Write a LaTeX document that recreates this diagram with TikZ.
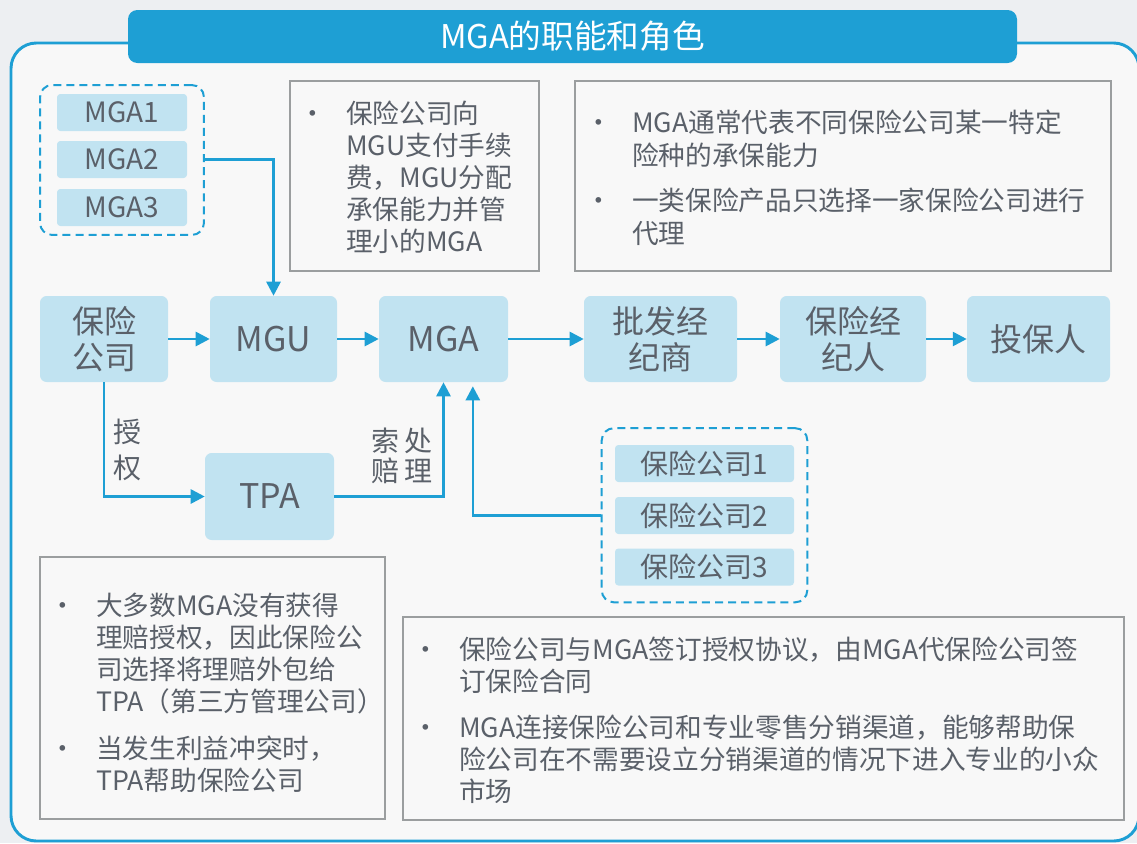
\documentclass[tikz,border=0pt]{standalone}
\usepackage{fontspec}
\setmainfont{Noto Sans CJK SC}
\usepackage{xcolor}
\usetikzlibrary{arrows.meta}
\usetikzlibrary{fit}

\definecolor{lineblue}{RGB}{30,159,212}
\definecolor{boxblue}{RGB}{193,227,241}
\definecolor{txtgray}{RGB}{90,96,105}
\definecolor{framegray}{RGB}{155,158,159}
\definecolor{innerbg}{RGB}{248,248,248}
\definecolor{pagebg}{RGB}{237,239,242}

\tikzset{
  titlebar/.style={rectangle,rounded corners=7pt,fill=lineblue,text=white,inner sep=0pt,minimum width=666.75pt,minimum height=39.75pt,font=\fontsize{24.5}{28}\selectfont},
  flowbox/.style={rectangle,rounded corners=5pt,fill=boxblue,text=txtgray,inner sep=0pt,minimum height=64.5pt,align=center,font=\fontsize{24}{27}\selectfont},
  itembox/.style={rectangle,rounded corners=2.5pt,fill=boxblue,text=txtgray,inner sep=0pt,minimum height=27.75pt,font=\fontsize{21}{24}\selectfont},
  groupbox/.style={draw=lineblue,line width=1.5pt,dash pattern=on 6pt off 3.8pt,rounded corners=9pt,inner sep=0pt},
  notebox/.style={draw=framegray,line width=1.5pt},
  notetext/.style={anchor=north west,inner sep=0pt,text=txtgray,font=\fontsize{20}{24}\selectfont},
  link/.style={draw=lineblue,line width=2pt,-{Triangle[length=10.5pt,width=10.5pt]}},
  lbl/.style={inner sep=0pt,text=txtgray,align=center,font=\fontsize{21}{27}\selectfont}
}
\newcommand{\bul}{\makebox[49.5pt][c]{\textbullet}}

\begin{document}
\begin{tikzpicture}[x=0.75pt,y=0.75pt,yscale=-1,xscale=1]
	\useasboundingbox (0,0) rectangle (1137,843);
	\fill[pagebg] (0,0) rectangle (1137,843);

	%Shape: Frame
	\draw[lineblue,line width=2.2pt,fill=innerbg,rounded corners=19pt] (11,43) rectangle (1139,841);
	% Title
	\node[titlebar] (title) at (572.5,36.5) {MGA的职能和角色};

	% Flow boxes
	\node[flowbox,minimum width=96pt] (ins) at (104,339) {保险\\公司};
	\node[flowbox,minimum width=95.25pt,font=\fontsize{25.5}{27}\selectfont] (mgu) at (273.5,339) {MGU};
	\node[flowbox,minimum width=96.75pt,font=\fontsize{25.5}{27}\selectfont] (mga) at (443.5,339) {MGA};
	\node[flowbox,minimum width=114.75pt] (whsl) at (660.5,339) {批发经\\纪商};
	\node[flowbox,minimum width=109.5pt] (brkr) at (853,339) {保险经\\纪人};
	\node[flowbox,minimum width=107.25pt] (holder) at (1038.5,339) {投保人};
	\node[flowbox,minimum width=96.75pt,minimum height=65.25pt,font=\fontsize{25.5}{27}\selectfont] (tpa) at (269.5,496.5) {TPA};

	% MGA group
	\node[itembox,minimum width=97.5pt] (mga1) at (122,112.5) {MGA1};
	\node[itembox,minimum width=97.5pt] (mga2) at (122,159.5) {MGA2};
	\node[itembox,minimum width=97.5pt] (mga3) at (122,207.5) {MGA3};
	\node[groupbox,fit=(mga1)(mga3),inner xsep=12.5pt,inner ysep=6.5pt] (mgagrp) {};

	% Company group
	\node[itembox,minimum width=134.25pt] (co1) at (704.5,463.5) {保险公司1};
	\node[itembox,minimum width=134.25pt] (co2) at (704.5,515.5) {保险公司2};
	\node[itembox,minimum width=134.25pt] (co3) at (704.5,567) {保险公司3};
	\node[groupbox,fit=(co1)(co3),inner xsep=9.75pt,inner ysep=12.4pt] (cogrp) {};

	% Arrows
	\draw[link] (ins) -- (mgu);
	\draw[link] (mgu) -- (mga);
	\draw[link] (mga) -- (whsl);
	\draw[link] (whsl) -- (brkr);
	\draw[link] (brkr) -- (holder);
	\draw[link] (mga2 -| mgagrp.east) -| (mgu.north);
	\draw[link] (ins.south) |- (tpa.west);
	\draw[link] (tpa.east) -| (mga.south);
	\draw[link,shorten >=3pt] (co2 -| cogrp.west) -| ([xshift=22pt]mga.south);

	% Text Node
	\node[lbl] (authlbl) at (127.5,450) {授\\权};
	% Text Node
	\node[lbl,font=\fontsize{21}{22}\selectfont] (claimlbl) at (402,456) {索\hspace{4.5pt}处\\赔\hspace{4.5pt}理};

	% Note boxes
	\draw[notebox] (290,81) rectangle (539,271);
	\node[notetext] (note1) at (280,100.6) {\begin{tabular}{@{}l@{}l@{}}
		\bul & 保险公司向\\
		 & MGU支付手续\\
		 & 费，MGU分配\\
		 & 承保能力并管\\
		 & 理小的MGA
	\end{tabular}};

	\draw[notebox] (575,81) rectangle (1111,271);
	\node[notetext,font=\fontsize{20}{24.75}\selectfont] (note2) at (566,109) {\begin{tabular}{@{}l@{}l@{}}
		\bul & MGA通常代表不同保险公司某一特定\\
		 & 险种的承保能力\\[9pt]
		\bul & 一类保险产品只选择一家保险公司进行\\
		 & 代理
	\end{tabular}};

	\draw[notebox] (40,557) rectangle (385,819);
	\node[notetext,font=\fontsize{20}{23.5}\selectfont] (note3) at (30,593) {\begin{tabular}{@{}l@{}l@{}}
		\bul & 大多数MGA没有获得\\
		 & 理赔授权，因此保险公\\
		 & 司选择将理赔外包给\\
		 & TPA（第三方管理公司）\\[11pt]
		\bul & 当发生利益冲突时，\\
		 & TPA帮助保险公司
	\end{tabular}};

	\draw[notebox] (403,617) rectangle (1124,820);
	\node[notetext] (note4) at (393,636.6) {\begin{tabular}{@{}l@{}l@{}}
		\bul & 保险公司与MGA签订授权协议，由MGA代保险公司签\\
		 & 订保险合同\\[10pt]
		\bul & MGA连接保险公司和专业零售分销渠道，能够帮助保\\
		 & 险公司在不需要设立分销渠道的情况下进入专业的小众\\
		 & 市场
	\end{tabular}};

\end{tikzpicture}
\end{document}
